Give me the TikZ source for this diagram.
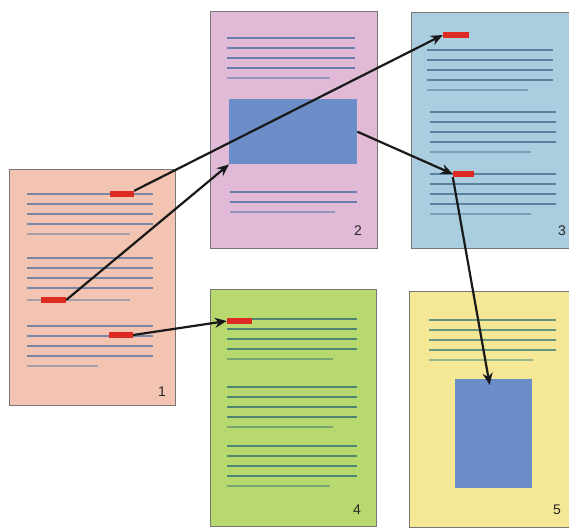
\documentclass[tikz,border=0pt]{standalone}
\usepackage{fontspec}
\setmainfont{Liberation Sans}
\usetikzlibrary{arrows.meta}
\definecolor{pgA}{RGB}{244,196,178}
\definecolor{pgB}{RGB}{224,186,214}
\definecolor{pgC}{RGB}{170,206,224}
\definecolor{pgD}{RGB}{184,217,110}
\definecolor{pgE}{RGB}{244,232,150}
\definecolor{edge}{RGB}{120,118,118}
\definecolor{imgblue}{RGB}{108,142,200}
\definecolor{mark}{RGB}{221,43,36}
\definecolor{lnA}{RGB}{120,135,165}
\definecolor{lnB}{RGB}{105,125,175}
\definecolor{lnC}{RGB}{88,130,160}
\definecolor{lnD}{RGB}{80,135,115}
\definecolor{lnE}{RGB}{100,150,130}
\tikzset{
  page/.style={draw=edge, line width=1pt, anchor=north west, inner sep=0pt},
  picbox/.style={fill=imgblue, anchor=north west, inner sep=0pt},
  redmark/.style={fill=mark, inner sep=0pt, minimum width=24pt, minimum height=6pt},
  txt/.style={line width=1.5pt},
  shorttxt/.style={line width=1.2pt, opacity=0.6},
  link/.style={line width=2.2pt, black!90, -{Stealth[length=12pt,width=10pt]}},
  num/.style={font=\fontsize{14}{14}\selectfont, text=black!85, inner sep=0pt}
}
\begin{document}
\begin{tikzpicture}[x=1pt,y=-1pt]
\useasboundingbox (0,0) rectangle (569,527);
\fill[white] (0,0) rectangle (569,527);
% pages
\node[page, fill=pgA, minimum width=166pt, minimum height=236pt] (p1) at (9,169) {};
\node[page, fill=pgB, minimum width=167pt, minimum height=237pt] (p2) at (210,11) {};
\node[page, fill=pgC, minimum width=158pt, minimum height=236pt] (p3) at (411,12) {};
\node[page, fill=pgD, minimum width=166pt, minimum height=237pt] (p4) at (210,289) {};
\node[page, fill=pgE, minimum width=160pt, minimum height=236pt] (p5) at (409,291) {};
% page 1 text
\foreach \y in {194,204,214,224,258,268,278,288,326,336,346,356} \draw[txt, lnA] (27,\y) -- (153,\y);
\draw[shorttxt, lnA] (27,234) -- (130,234);
\draw[shorttxt, lnA] (27,300) -- (130,300);
\draw[shorttxt, lnA] (27,366) -- (98,366);
% page 2 text
\foreach \y in {38,48,58,68} \draw[txt, lnB] (227,\y) -- (355,\y);
\draw[shorttxt, lnB] (227,78) -- (330,78);
\foreach \y in {192,202} \draw[txt, lnB] (230,\y) -- (357,\y);
\draw[shorttxt, lnB] (230,212) -- (335,212);
% page 3 text
\foreach \y in {50,60,70,80} \draw[txt, lnC] (427,\y) -- (553,\y);
\draw[shorttxt, lnC] (427,90) -- (528,90);
\foreach \y in {112,122,132,142,174,184,194,204} \draw[txt, lnC] (430,\y) -- (556,\y);
\draw[shorttxt, lnC] (430,152) -- (531,152);
\draw[shorttxt, lnC] (430,214) -- (531,214);
% page 4 text
\foreach \y in {319,329,339,349,387,397,407,417,446,456,466,476} \draw[txt, lnD] (227,\y) -- (357,\y);
\draw[shorttxt, lnD] (227,359) -- (333,359);
\draw[shorttxt, lnD] (227,427) -- (333,427);
\draw[shorttxt, lnD] (227,486) -- (330,486);
% page 5 text
\foreach \y in {320,330,340,350} \draw[txt, lnE] (429,\y) -- (556,\y);
\draw[shorttxt, lnE] (429,360) -- (533,360);
% picture blocks
\node[picbox, minimum width=128pt, minimum height=65pt] (b2) at (229,99) {};
\node[picbox, minimum width=77pt, minimum height=109pt] (b5) at (455,379) {};
% red marks
\node[redmark] (r1a) at (122,194) {};
\node[redmark, minimum width=25pt] (r1b) at (53.5,300) {};
\node[redmark] (r1c) at (121,335) {};
\node[redmark, minimum width=26pt] (r3a) at (456,35) {};
\node[redmark, minimum width=21pt] (r3b) at (463.5,174) {};
\node[redmark, minimum width=25pt] (r4) at (239.5,321) {};
% numbers
\node[num] (n1) at (162,392) {1};
\node[num] (n2) at (358,231) {2};
\node[num] (n3) at (562,231) {3};
\node[num] (n4) at (357,510) {4};
\node[num] (n5) at (557,510) {5};
% connectors
\draw[link] (r1a.north east) -- (r3a.west);
\draw[link] (r1b.east) -- (b2.south west);
\draw[link] (r1c.east) -- (r4.west);
\draw[link] (b2.east) -- (r3b.west);
\draw[link] (r3b.south west) -- ([xshift=-4pt,yshift=-6pt]b5.north);
\end{tikzpicture}
\end{document}
